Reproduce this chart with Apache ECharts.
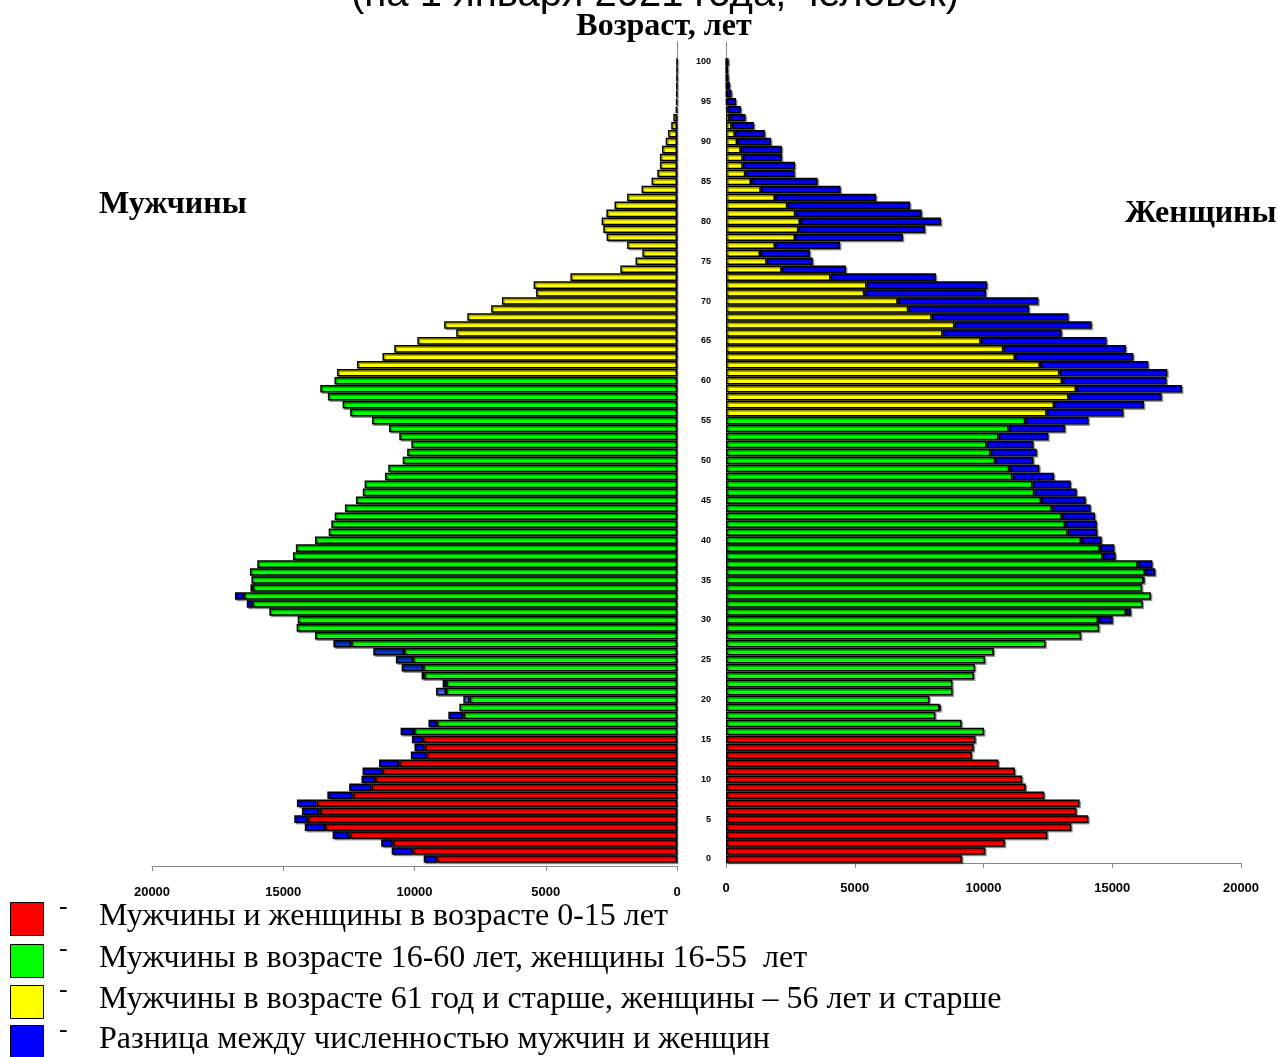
<!DOCTYPE html>
<html>
<head>
<meta charset="utf-8">
<script src="https://cdn.jsdelivr.net/npm/echarts@6/dist/echarts.min.js"></script>
<style>
html,body{margin:0;padding:0;background:#fff;}
#chart{width:1278px;height:1057px;}
</style>
</head>
<body>
<div id="chart"></div>
<script>
// Age categories (0..100) plus two empty bands above the top age
const ageCategories = [];
for (let a = 0; a <= 102; a++) ageCategories.push(String(a));

// Men by single year of age, 0..100
const men = [
  9650, 10870, 11270, 13120, 14180, 14580, 14290, 14480, 13320, 12490,
  12020, 11980, 11350, 10140, 10000, 10100, 10530, 9470, 8710, 8290,
  8140, 9180, 8930, 9730, 10490, 10710, 11570, 13090, 13790, 14490,
  14450, 15530, 16390, 16840, 16250, 16210, 16270, 15990, 14630, 14520,
  13790, 13270, 13170, 13040, 12650, 12230, 11970, 11900, 11120, 11000,
  10450, 10280, 10120, 10580, 10970, 11620, 12450, 12740, 13300, 13590,
  13050, 12950, 12190, 11220, 10770, 9890, 8410, 8870, 7990, 7080,
  6670, 5370, 5460, 4060, 2160, 1580, 1320, 1900, 2680, 2810,
  2870, 2690, 2380, 1900, 1350, 970, 750, 650, 650, 570,
  430, 340, 220, 140, 50, 30, 20, 15, 10, 5,
  5
];

// Women by single year of age, 0..100
const women = [
  9170, 10070, 10830, 12480, 13410, 14070, 13610, 13730, 12360, 11640,
  11500, 11220, 10580, 9550, 9620, 9690, 10020, 9150, 8130, 8340,
  7900, 8800, 8790, 9630, 9670, 10060, 10400, 12410, 13790, 14490,
  15020, 15730, 16180, 16500, 16160, 16250, 16670, 16560, 15130, 15080,
  14590, 14420, 14400, 14330, 14160, 13970, 13620, 13390, 12740, 12170,
  11940, 12070, 11940, 12520, 13170, 14080, 15430, 16230, 16920, 17710,
  17110, 17140, 16400, 15820, 15530, 14780, 13040, 14200, 13300, 11770,
  12130, 10100, 10140, 8150, 4660, 3370, 3260, 4430, 6870, 7730,
  8350, 7600, 7150, 5830, 4450, 3560, 2670, 2680, 2170, 2170,
  1750, 1510, 1090, 760, 580, 390, 220, 150, 100, 80,
  100
];

const xTicks = [0, 5000, 10000, 15000, 20000];

const legendItems = [
  'Мужчины и женщины в возрасте 0-15 лет',
  'Мужчины в возрасте 16-60 лет, женщины 16-55  лет',
  'Мужчины в возрасте 61 год и старше, женщины – 56 лет и старше',
  'Разница между численностью мужчин и женщин'
];

const RED = '#FF0000', GREEN = '#00FF00', YELLOW = '#FFFF00', BLUE = '#0000FF';
const legendColors = [RED, GREEN, YELLOW, BLUE];

const common = men.map((m, i) => Math.min(m, women[i]));
const menExtra = men.map((m, i) => (m > women[i] ? m - women[i] : '-'));
const womenExtra = women.map((w, i) => (w > men[i] ? w - men[i] : '-'));

function colorFor(age, workEnd) {
  if (age <= 15) return RED;
  if (age <= workEnd) return GREEN;
  return YELLOW;
}
function menBlue(age) {
  if (age >= 24 && age <= 27) return '#0033CC';
  if (age === 20 || age === 21) return '#3366FF';
  if (age === 22 || age === 23) return '#0022AA';
  return BLUE;
}

const barStyleBase = {
  borderColor: '#000',
  borderWidth: 1.5,
  shadowColor: 'rgba(0,0,0,0.35)',
  shadowOffsetX: 1.5,
  shadowOffsetY: 1.5,
  shadowBlur: 0
};

const GRID_TOP = 42, GRID_H = 821;
const GAP = '5%';

const chart = echarts.init(document.getElementById('chart'), null, {renderer: 'canvas'});

const legendGraphics = [];
const legendY = [902, 944, 985, 1025];
legendItems.forEach((t, i) => {
  legendGraphics.push({
    type: 'rect', shape: {x: 10.5, y: legendY[i] + 0.5, width: 33, height: 33},
    style: {fill: legendColors[i], stroke: '#000', lineWidth: 1}
  });
  legendGraphics.push({
    type: 'text', x: 59, y: legendY[i] + 5,
    style: {text: '-', font: '26px "Liberation Serif", serif', fill: '#000', verticalAlign: 'middle'}
  });
  legendGraphics.push({
    type: 'text', x: 99, y: legendY[i] + 15,
    style: {text: t, font: '32px "Liberation Serif", serif', fill: '#000', verticalAlign: 'middle'}
  });
});

const axisLabelStyle = {fontFamily: '"Liberation Sans", Arial, sans-serif', fontWeight: 'bold', fontSize: 13, color: '#000'};

const option = {
  animation: false,
  backgroundColor: '#fff',
  grid: [
    {left: 152, top: GRID_TOP, width: 525, height: GRID_H},
    {left: 726, top: GRID_TOP, width: 515, height: GRID_H}
  ],
  xAxis: [
    {
      gridIndex: 0, type: 'value', inverse: true, min: 0, max: 20000, interval: 5000,
      offset: 3,
      axisLine: {show: true, lineStyle: {color: '#888', width: 1}},
      axisTick: {show: true, length: 5, lineStyle: {color: '#888'}},
      splitLine: {show: false},
      axisLabel: Object.assign({margin: 20, formatter: v => xTicks.includes(v) ? String(v) : ''}, axisLabelStyle)
    },
    {
      gridIndex: 1, type: 'value', min: 0, max: 20000, interval: 5000,
      axisLine: {show: true, lineStyle: {color: '#888', width: 1}},
      axisTick: {show: true, length: 5, lineStyle: {color: '#888'}},
      splitLine: {show: false},
      axisLabel: Object.assign({margin: 19, formatter: v => xTicks.includes(v) ? String(v) : ''}, axisLabelStyle)
    }
  ],
  yAxis: [
    {
      gridIndex: 0, type: 'category', data: ageCategories, position: 'right',
      axisLine: {show: true, onZero: false, lineStyle: {color: '#888', width: 1}},
      axisTick: {show: false}, axisLabel: {show: false}, splitLine: {show: false}
    },
    {
      gridIndex: 1, type: 'category', data: ageCategories, position: 'left',
      axisLine: {show: true, onZero: false, lineStyle: {color: '#888', width: 1}},
      axisTick: {show: false}, splitLine: {show: false},
      axisLabel: {
        show: true, margin: 15, align: 'right',
        interval: (idx) => idx % 5 === 0 && idx <= 100,
        fontFamily: '"Liberation Sans", Arial, sans-serif', fontWeight: 'bold', fontSize: 9, color: '#000'
      }
    }
  ],
  series: [
    {
      name: 'men-common', type: 'bar', xAxisIndex: 0, yAxisIndex: 0, stack: 'm',
      barCategoryGap: GAP, data: common,
      itemStyle: Object.assign({color: p => colorFor(p.dataIndex, 60)}, barStyleBase)
    },
    {
      name: 'men-extra', type: 'bar', xAxisIndex: 0, yAxisIndex: 0, stack: 'm',
      barCategoryGap: GAP, data: menExtra,
      itemStyle: Object.assign({color: p => menBlue(p.dataIndex)}, barStyleBase)
    },
    {
      name: 'women-common', type: 'bar', xAxisIndex: 1, yAxisIndex: 1, stack: 'w',
      barCategoryGap: GAP, data: common,
      itemStyle: Object.assign({color: p => colorFor(p.dataIndex, 55)}, barStyleBase)
    },
    {
      name: 'women-extra', type: 'bar', xAxisIndex: 1, yAxisIndex: 1, stack: 'w',
      barCategoryGap: GAP, data: womenExtra,
      itemStyle: Object.assign({color: BLUE}, barStyleBase)
    }
  ],
  graphic: [
    {
      type: 'text', x: 655, y: -5,
      style: {text: '(на 1 января 2021 года, человек)', font: '40px "Liberation Sans", Arial, sans-serif', fill: '#000', align: 'center', verticalAlign: 'middle'}
    },
    {
      type: 'text', x: 664, y: 27,
      style: {text: 'Возраст, лет', font: 'bold 32px "Liberation Serif", serif', fill: '#000', align: 'center', verticalAlign: 'middle'}
    },
    {
      type: 'text', x: 99, y: 205,
      style: {text: 'Мужчины', font: 'bold 32px "Liberation Serif", serif', fill: '#000', verticalAlign: 'middle'}
    },
    {
      type: 'text', x: 1125, y: 214,
      style: {text: 'Женщины', font: 'bold 32px "Liberation Serif", serif', fill: '#000', verticalAlign: 'middle'}
    }
  ].concat(legendGraphics)
};

chart.setOption(option);
</script>
</body>
</html>
